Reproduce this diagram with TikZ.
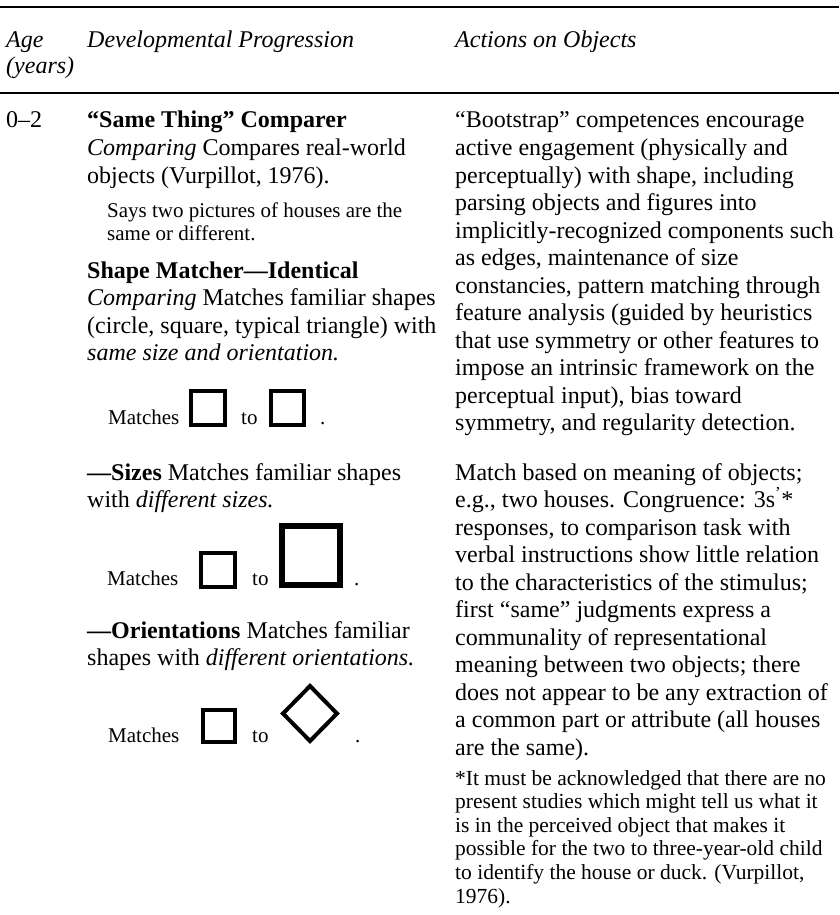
\documentclass[tikz,border=0pt]{standalone}
\usepackage{fontspec}
\setmainfont{Liberation Serif}
\begin{document}
\begin{tikzpicture}[x=1pt,y=-1pt]
\tikzset{
  body/.style={anchor=base west, inner sep=0pt, font=\fontsize{24}{27.5}\selectfont},
  small/.style={anchor=base west, inner sep=0pt, font=\fontsize{21}{23.6}\selectfont},
  fnote/.style={anchor=base west, inner sep=0pt, font=\fontsize{21.5}{23.6}\selectfont},
  hrule/.style={line width=2.2pt},
  shp/.style={line width=4pt, line join=miter},
  bigshp/.style={line width=6pt, line join=miter},
}
\useasboundingbox (0,0) rectangle (839,915);
% rules
\coordinate (t1) at (0,7); \coordinate (t2) at (839,7);
\coordinate (m1) at (0,93); \coordinate (m2) at (839,93);
\draw[hrule] (t1) -- (t2);
\draw[hrule] (m1) -- (m2);
% header
\node[body] (hage) at (6,48) {\textit{Age}};
\node[body] (hyears) at (6,74) {\textit{(years)}};
\node[body] (hdev) at (87,48) {\textit{Developmental Progression}};
\node[body] (hact) at (455,48) {\textit{Actions on Objects}};
% age
\node[body] (age) at (6,128) {0–2};
% left column
\node[body] (l1) at (87,128) {\textbf{“Same Thing” Comparer}};
\node[body] (l2) at (87,155.5) {\textit{Comparing} Compares real-world};
\node[body] (l3) at (87,183) {objects (Vurpillot, 1976).};
\node[small] (l4) at (107,217) {Says two pictures of houses are the};
\node[small] (l5) at (107,240.6) {same or different.};
\node[body] (l6) at (87,278) {\textbf{Shape Matcher—Identical}};
\node[body] (l7) at (87,305.5) {\textit{Comparing} Matches familiar shapes};
\node[body] (l8) at (87,333) {(circle, square, typical triangle) with};
\node[body] (l9) at (87,360.5) {\textit{same size and orientation.}};
% row 1
\node[small] (r1m) at (108,424) {Matches};
\draw[shp] (191,391) rectangle (225,425);
\node[small] (r1t) at (241,424) {to};
\draw[shp] (271,391) rectangle (304,425);
\node[small] (r1p) at (320,424) {.};
\node[body] (l10) at (87,480) {\textbf{—Sizes} Matches familiar shapes};
\node[body] (l11) at (87,507.5) {with \textit{different sizes.}};
% row 2
\node[small] (r2m) at (107,585) {Matches};
\draw[shp] (201,553) rectangle (235,587);
\node[small] (r2t) at (252,585) {to};
\draw[bigshp] (282,526) rectangle (340,585);
\node[small] (r2p) at (354,585) {.};
\node[body] (l12) at (87,638) {\textbf{—Orientations} Matches familiar};
\node[body] (l13) at (87,665.5) {shapes with \textit{different orientations.}};
% row 3
\node[small] (r3m) at (108,742) {Matches};
\draw[shp] (203,710) rectangle (235,742);
\node[small] (r3t) at (252,742) {to};
\draw[shp] (310,686) -- (337,713.5) -- (310,741) -- (283,713.5) -- cycle;
\node[small] (r3p) at (355,742) {.};
% right column, paragraph 1
\foreach \t [count=\i from 0] in {
  {“Bootstrap” competences encourage},
  {active engagement (physically and},
  {perceptually) with shape, including},
  {parsing objects and figures into},
  {implicitly-recognized components such},
  {as edges, maintenance of size},
  {constancies, pattern matching through},
  {feature analysis (guided by heuristics},
  {that use symmetry or other features to},
  {impose an intrinsic framework on the},
  {perceptual input), bias toward},
  {symmetry, and regularity detection.}}
  \node[body] (pa-\i) at (455,{128+27.5*\i}) {\t};
% paragraph 2
\foreach \t [count=\i from 0] in {
  {Match based on meaning of objects;},
  {e.g., two houses. Congruence: 3s\textsuperscript{’}*},
  {responses, to comparison task with},
  {verbal instructions show little relation},
  {to the characteristics of the stimulus;},
  {first “same” judgments express a},
  {communality of representational},
  {meaning between two objects; there},
  {does not appear to be any extraction of},
  {a common part or attribute (all houses},
  {are the same).}}
  \node[body] (pb-\i) at (455,{480+27.5*\i}) {\t};
% footnote
\foreach \t [count=\i from 0] in {
  {*It must be acknowledged that there are no},
  {present studies which might tell us what it},
  {is in the perceived object that makes it},
  {possible for the two to three-year-old child},
  {to identify the house or duck. (Vurpillot,},
  {1976).}}
  \node[fnote] (pc-\i) at (455,{785+23.6*\i}) {\t};
\end{tikzpicture}
\end{document}
